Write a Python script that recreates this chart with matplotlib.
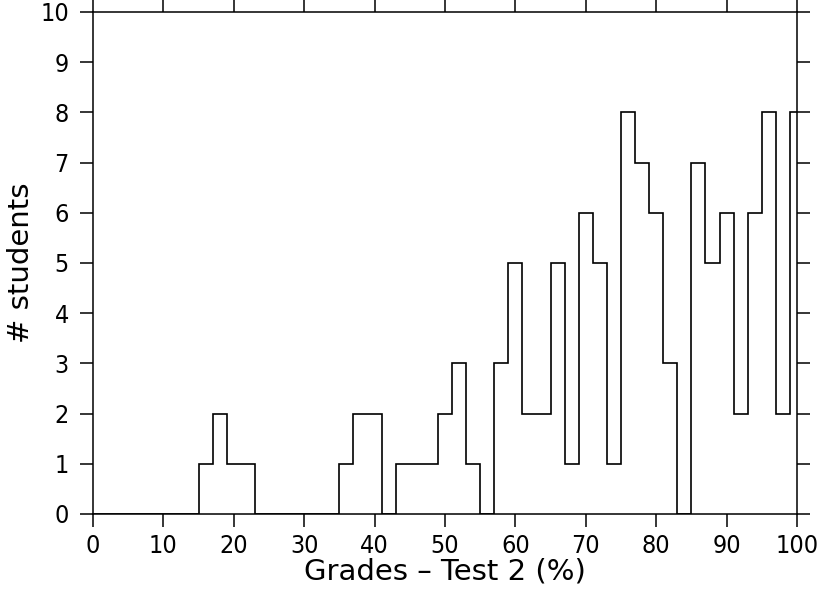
import matplotlib
matplotlib.use("Agg")
import matplotlib.pyplot as plt
import numpy as np

plt.rcParams['font.family'] = ['DejaVu Sans']

# bin centres (grade %) and number of students in each 2-point bin
grade_centres = list(range(0, 101, 2))
n_students = [0, 0, 0, 0, 0, 0, 0, 0, 1, 2,
              1, 1, 0, 0, 0, 0, 0, 0, 1, 2,
              2, 0, 1, 1, 1, 2, 3, 1, 0, 3,
              5, 2, 2, 5, 1, 6, 5, 1, 8, 7,
              6, 3, 0, 7, 5, 6, 2, 6, 8, 2,
              8]
x_ticks = list(range(0, 101, 10))
y_ticks = list(range(0, 11))

centres = np.array(grade_centres)
edges = np.append(centres - 1, centres[-1] + 1)

fig = plt.figure(figsize=(8.18, 5.91), dpi=100)
ax = fig.add_axes([0.1137, 0.1303, 0.8606, 0.8494])

ax.stairs(n_students, edges, color="black", lw=1.2)

ax.set_xlim(0, 100)
ax.set_ylim(0, 10)
ax.set_xticks(x_ticks)
ax.set_yticks(y_ticks)
ax.tick_params(direction="out", length=9.4, width=1.1,
               top=True, right=True, labeltop=False, labelright=False)
ax.tick_params(axis="x", pad=5)
ax.tick_params(axis="y", pad=8)
for lab in ax.get_xticklabels() + ax.get_yticklabels():
    lab.set_fontsize(18)
    lab.set_fontstretch('condensed')
for s in ax.spines.values():
    s.set_linewidth(1.1)

ax.set_xlabel("Grades – Test 2 (%)", fontsize=21, labelpad=0)
ax.set_ylabel("# students", fontsize=21, labelpad=4)

fig.savefig("out.png", dpi=100)
